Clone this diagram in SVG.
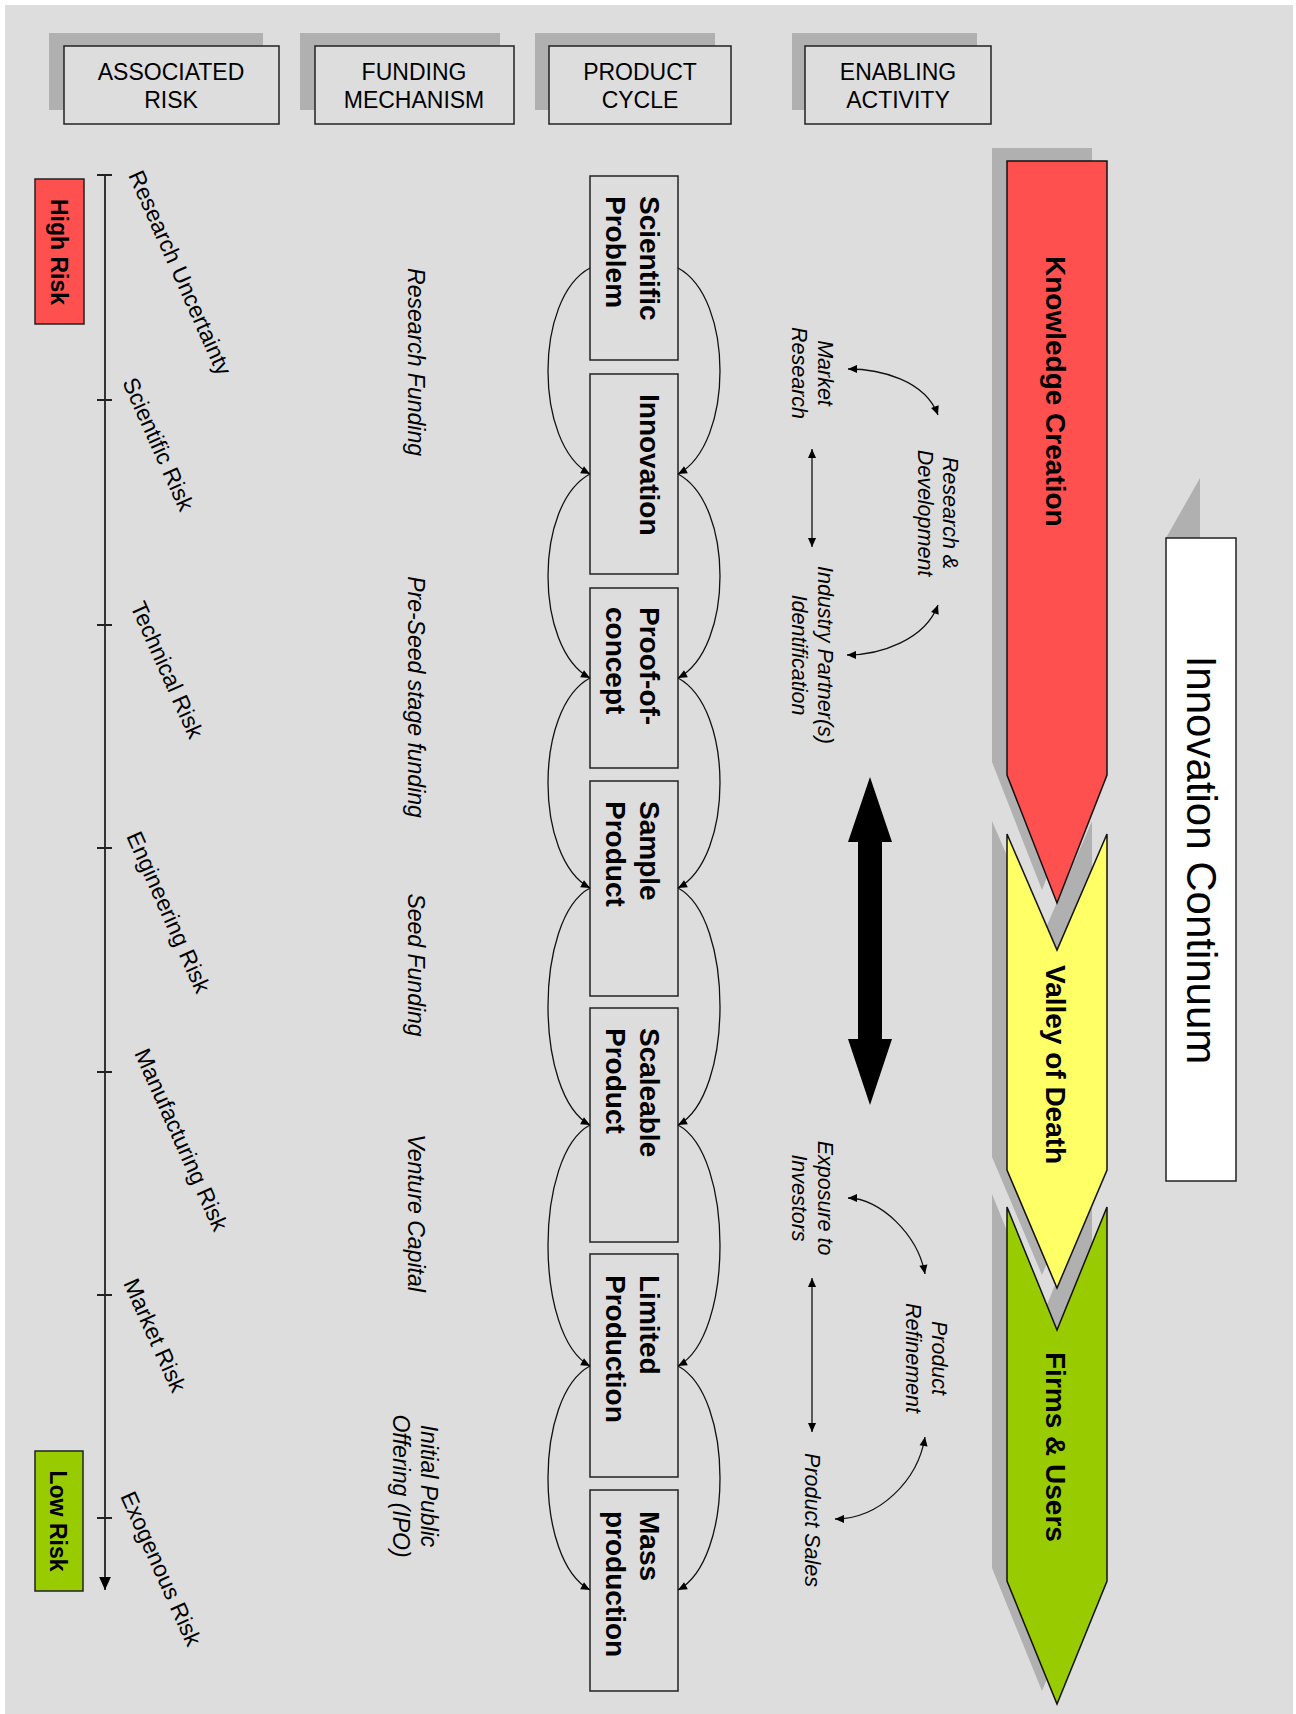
<svg xmlns="http://www.w3.org/2000/svg" width="1296" height="1714" viewBox="0 0 1296 1714">
<defs>
<style>
text{font-family:"Liberation Sans",Arial,sans-serif;fill:#000}
.hdr{font-size:23px;text-anchor:middle}
.box{fill:#DDDDDD;stroke:#222;stroke-width:1.5}
.shadow{fill:#B0B0B0}
.pt{font-size:28px;font-weight:bold}
.chev{stroke:#111;stroke-width:1.5}
.ct{font-size:28px;font-weight:bold}
.risk{font-size:23px}
.fund{font-size:23px;font-style:italic;text-anchor:middle}
.en{font-size:21.5px;font-style:italic;text-anchor:middle}
.lvl{font-size:23px;font-weight:bold;text-anchor:middle}
.cur{fill:none;stroke:#111;stroke-width:1.3}
.ax{fill:none;stroke:#222;stroke-width:1.8}
</style>
<marker id="ah" viewBox="0 0 10 10" refX="10" refY="5" markerWidth="10" markerHeight="9" markerUnits="userSpaceOnUse" orient="auto-start-reverse">
<path d="M0,0.5 L10,5 L0,9.5 z" fill="#000"/>
</marker>
<marker id="axh" viewBox="0 0 10 10" refX="10" refY="5" markerWidth="13" markerHeight="13" markerUnits="userSpaceOnUse" orient="auto">
<path d="M0,0.5 L10,5 L0,9.5 z" fill="#000"/>
</marker>
</defs>

<rect x="5" y="5" width="1288" height="1709" fill="#DDDDDD"/>

<!-- Header boxes -->
<g id="hdr-risk">
<rect class="shadow" x="49" y="33" width="214" height="77"/>
<rect class="box" x="64" y="46" width="215" height="78"/>
<text class="hdr" x="171" y="80">ASSOCIATED</text>
<text class="hdr" x="171" y="108">RISK</text>
</g>
<g id="hdr-funding">
<rect class="shadow" x="300" y="33" width="200" height="77"/>
<rect class="box" x="315" y="46" width="199" height="78"/>
<text class="hdr" x="414" y="80">FUNDING</text>
<text class="hdr" x="414" y="108">MECHANISM</text>
</g>
<g id="hdr-product">
<rect class="shadow" x="535" y="33" width="180" height="77"/>
<rect class="box" x="549" y="46" width="182" height="78"/>
<text class="hdr" x="640" y="80">PRODUCT</text>
<text class="hdr" x="640" y="108">CYCLE</text>
</g>
<g id="hdr-enabling">
<rect class="shadow" x="792" y="33" width="185" height="77"/>
<rect class="box" x="805" y="46" width="186" height="78"/>
<text class="hdr" x="898" y="80">ENABLING</text>
<text class="hdr" x="898" y="108">ACTIVITY</text>
</g>

<!-- Risk axis -->
<g id="risk-axis">
<line class="ax" x1="105" y1="175" x2="105" y2="1590" marker-end="url(#axh)"/>
<path class="ax" d="M97,175 H112 M97,400 H112 M97,625 H112 M97,848 H112 M97,1072 H112 M97,1295 H112 M97,1518 H112"/>
</g>
<g id="high-risk">
<rect x="35" y="179" width="49" height="145" fill="#FF5050" stroke="#222" stroke-width="1.5"/>
<text class="lvl" transform="translate(51,252) rotate(90)">High Risk</text>
</g>
<g id="low-risk">
<rect x="35" y="1451" width="48" height="140" fill="#99CC00" stroke="#222" stroke-width="1.5"/>
<text class="lvl" transform="translate(50,1521) rotate(90)">Low Risk</text>
</g>
<g id="risk-labels">
<text class="risk" transform="translate(128,175) rotate(66)">Research Uncertainty</text>
<text class="risk" transform="translate(122,382) rotate(66)">Scientific Risk</text>
<text class="risk" transform="translate(130,606) rotate(66)">Technical Risk</text>
<text class="risk" transform="translate(126,836) rotate(66)">Engineering Risk</text>
<text class="risk" transform="translate(134,1053) rotate(66)">Manufacturing Risk</text>
<text class="risk" transform="translate(123,1283) rotate(66)">Market Risk</text>
<text class="risk" transform="translate(120,1496) rotate(66)">Exogenous Risk</text>
</g>

<!-- Funding -->
<g id="funding">
<text class="fund" transform="translate(408,362) rotate(90)">Research Funding</text>
<text class="fund" transform="translate(408,697) rotate(90)">Pre-Seed stage funding</text>
<text class="fund" transform="translate(408,965) rotate(90)">Seed Funding</text>
<text class="fund" transform="translate(408,1213) rotate(90)">Venture Capital</text>
<text class="fund" transform="translate(421,1486) rotate(90)"><tspan x="0" y="0">Initial Public</tspan><tspan x="0" y="28">Offering (IPO)</tspan></text>
</g>

<!-- Product cycle -->
<g id="scientific-problem">
<rect class="box" x="590" y="176" width="88" height="184"/>
<text class="pt" transform="translate(640,196) rotate(90)"><tspan x="0" y="0">Scientific</tspan><tspan x="0" y="34">Problem</tspan></text>
</g>
<g id="innovation">
<rect class="box" x="590" y="374" width="88" height="200"/>
<text class="pt" transform="translate(640,394) rotate(90)">Innovation</text>
</g>
<g id="proof-of-concept">
<rect class="box" x="590" y="588" width="88" height="180"/>
<text class="pt" transform="translate(640,607) rotate(90)"><tspan x="0" y="0">Proof-of-</tspan><tspan x="0" y="34">concept</tspan></text>
</g>
<g id="sample-product">
<rect class="box" x="590" y="781" width="88" height="215"/>
<text class="pt" transform="translate(640,801) rotate(90)"><tspan x="0" y="0">Sample</tspan><tspan x="0" y="34">Product</tspan></text>
</g>
<g id="scaleable-product">
<rect class="box" x="590" y="1008" width="88" height="234"/>
<text class="pt" transform="translate(640,1028) rotate(90)"><tspan x="0" y="0">Scaleable</tspan><tspan x="0" y="34">Product</tspan></text>
</g>
<g id="limited-production">
<rect class="box" x="590" y="1254" width="88" height="223"/>
<text class="pt" transform="translate(640,1275) rotate(90)"><tspan x="0" y="0">Limited</tspan><tspan x="0" y="34">Production</tspan></text>
</g>
<g id="mass-production">
<rect class="box" x="590" y="1490" width="88" height="201"/>
<text class="pt" transform="translate(640,1511) rotate(90)"><tspan x="0" y="0">Mass</tspan><tspan x="0" y="34">production</tspan></text>
</g>

<!-- Enabling activity labels -->
<g id="market-research"><text class="en" transform="translate(818,373) rotate(90)"><tspan x="0" y="0">Market</tspan><tspan x="0" y="26">Research</tspan></text></g>
<g id="research-development"><text class="en" transform="translate(943,513) rotate(90)"><tspan x="0" y="0">Research &amp;</tspan><tspan x="0" y="25">Development</tspan></text></g>
<g id="industry-partner"><text class="en" transform="translate(818,655) rotate(90)"><tspan x="0" y="0">Industry Partner(s)</tspan><tspan x="0" y="26">Identification</tspan></text></g>
<g id="exposure-investors"><text class="en" transform="translate(818,1198) rotate(90)"><tspan x="0" y="0">Exposure to</tspan><tspan x="0" y="26">Investors</tspan></text></g>
<g id="product-refinement"><text class="en" transform="translate(932,1358) rotate(90)"><tspan x="0" y="0">Product</tspan><tspan x="0" y="26">Refinement</tspan></text></g>
<g id="product-sales"><text class="en" transform="translate(805,1520) rotate(90)">Product Sales</text></g>

<g id="big-arrow">
<polygon points="870,777 892,842 882,842 882,1039 892,1039 870,1105 848,1039 858,1039 858,842 848,842" fill="#000"/>
</g>

<!-- Connectors -->
<g id="connectors">
<path class="cur" marker-end="url(#ah)" d="M590,268 C534,298 534,444 590,474"/>
<path class="cur" marker-end="url(#ah)" d="M590,474 C534,504 534,648 590,678"/>
<path class="cur" marker-end="url(#ah)" d="M590,678 C534,708 534,858 590,888"/>
<path class="cur" marker-end="url(#ah)" d="M590,888 C534,918 534,1095 590,1125"/>
<path class="cur" marker-end="url(#ah)" d="M590,1125 C534,1155 534,1336 590,1366"/>
<path class="cur" marker-end="url(#ah)" d="M590,1366 C534,1396 534,1560 590,1590"/>
<path class="cur" marker-end="url(#ah)" d="M678,268 C734,298 734,444 678,474"/>
<path class="cur" marker-end="url(#ah)" d="M678,474 C734,504 734,648 678,678"/>
<path class="cur" marker-end="url(#ah)" d="M678,678 C734,708 734,858 678,888"/>
<path class="cur" marker-end="url(#ah)" d="M678,888 C734,918 734,1095 678,1125"/>
<path class="cur" marker-end="url(#ah)" d="M678,1125 C734,1155 734,1336 678,1366"/>
<path class="cur" marker-end="url(#ah)" d="M678,1366 C734,1396 734,1560 678,1590"/>

<path class="cur" marker-start="url(#ah)" marker-end="url(#ah)" d="M848,369 C880,369 925,380 938,415"/>
<path class="cur" marker-start="url(#ah)" marker-end="url(#ah)" d="M938,605 C925,640 880,655 847,655"/>
<path class="cur" marker-start="url(#ah)" marker-end="url(#ah)" d="M812,449 V547"/>
<path class="cur" marker-start="url(#ah)" marker-end="url(#ah)" d="M848,1198 C880,1198 918,1235 925,1274"/>
<path class="cur" marker-start="url(#ah)" marker-end="url(#ah)" d="M925,1437 C918,1480 880,1519 835,1519"/>
<path class="cur" marker-start="url(#ah)" marker-end="url(#ah)" d="M812,1278 V1432"/>
</g>

<!-- Continuum chevrons -->
<g id="chevron-shadows" class="shadow">
<polygon points="992,148 1092,148 1092,762 1042,890 992,762"/>
<polygon points="992,821 1042,937 1092,821 1092,1157 1042,1275 992,1157"/>
<polygon points="992,1194 1042,1317 1092,1194 1092,1568 1042,1691 992,1568"/>
</g>
<g id="knowledge-creation">
<polygon class="chev" points="1007,161 1107,161 1107,775 1057,903 1007,775" fill="#FF5050"/>
<text class="ct" transform="translate(1046,256) rotate(90)">Knowledge Creation</text>
</g>
<g id="valley-of-death">
<polygon class="chev" points="1007,834 1057,950 1107,834 1107,1170 1057,1288 1007,1170" fill="#FFFF66"/>
<text class="ct" transform="translate(1046,965) rotate(90)">Valley of Death</text>
</g>
<g id="firms-users">
<polygon class="chev" points="1007,1207 1057,1330 1107,1207 1107,1581 1057,1704 1007,1581" fill="#99CC00"/>
<text class="ct" transform="translate(1046,1352) rotate(90)">Firms &amp; Users</text>
</g>

<g id="innovation-continuum">
<polygon class="shadow" points="1166,538 1200,478 1200,538"/>
<rect x="1166" y="538" width="70" height="643" fill="#FFFFFF" stroke="#222" stroke-width="1.5"/>
<text transform="translate(1187,860) rotate(90)" style="font-size:42px;text-anchor:middle">Innovation Continuum</text>
</g>
</svg>
